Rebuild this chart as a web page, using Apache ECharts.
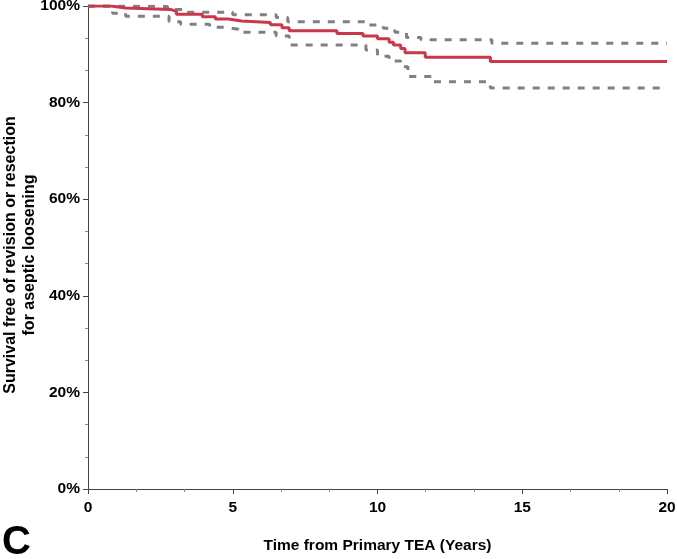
<!DOCTYPE html>
<html>
<head>
<meta charset="utf-8">
<script src="https://cdn.jsdelivr.net/npm/echarts@6/dist/echarts.min.js"></script>
<style>
html,body{margin:0;padding:0;background:#fff;}
#c{width:677px;height:559px;}
</style>
</head>
<body>
<div id="c"></div>
<script>
// Kaplan-Meier estimate: [time (years), survival %] step points
var survival = [
  [0,100],[0.8,99.6],[1.3,99.3],[2.85,98.9],[3.05,98.3],[3.95,97.8],[4.4,97.3],
  [4.85,96.9],[5.3,96.6],[6.3,96.1],[6.7,95.5],[6.95,94.9],[8.6,94.3],[9.5,93.8],
  [10.0,93.2],[10.4,92.5],[10.55,91.9],[10.8,91.2],[10.95,90.3],[11.65,89.4],
  [13.9,88.5],[20,88.5]
];
var upperCI = [
  [0,100],[0.9,99.9],[2.75,99.3],[3.4,98.7],[5.0,98.2],[6.5,97.6],[6.9,96.75],
  [9.6,96.05],[10.2,95.4],[10.6,94.55],[11.0,93.5],[11.5,93.0],[13.95,92.3],[20,92.3]
];
var lowerCI = [
  [0,100],[0.85,98.5],[1.3,97.9],[2.8,96.75],[3.2,96.2],[4.2,95.6],[4.75,95.2],
  [5.2,94.55],[6.5,93.8],[6.95,91.9],[9.6,90.9],[10.0,89.6],[10.4,88.6],[10.8,87.4],
  [11.05,85.4],[11.9,84.3],[13.9,83.0],[20,83.0]
];
var xTicks = [0,5,10,15,20];
var yTicks = [0,20,40,60,80,100];
var yTitleLines = ['Survival free of revision or resection', 'for aseptic loosening'];

var FONT = '"Liberation Sans", Arial, sans-serif';
var chart = echarts.init(document.getElementById('c'), null, {renderer:'canvas'});
chart.setOption({
  animation:false,
  backgroundColor:'#fff',
  grid:{left:88,right:10,top:6,bottom:70,containLabel:false,outerBoundsMode:'none'},
  xAxis:{
    type:'value', min:xTicks[0], max:xTicks[xTicks.length-1], interval:5,
    name:'Time from Primary TEA (Years)', nameLocation:'middle', nameGap:49,
    nameTextStyle:{fontFamily:FONT,fontWeight:'bold',fontSize:15.5,color:'#000'},
    axisLine:{show:true,lineStyle:{color:'#444',width:1}},
    axisTick:{show:true,length:5,lineStyle:{color:'#444'}},
    minorTick:{show:true,splitNumber:3,length:3,lineStyle:{color:'#888'}},
    axisLabel:{fontFamily:FONT,fontWeight:'bold',fontSize:15.5,color:'#000',margin:11},
    splitLine:{show:false}
  },
  yAxis:{
    type:'value', min:yTicks[0], max:yTicks[yTicks.length-1], interval:20,
    axisLine:{show:true,lineStyle:{color:'#444',width:1}},
    axisTick:{show:true,length:5,lineStyle:{color:'#444'}},
    minorTick:{show:true,splitNumber:3,length:3,lineStyle:{color:'#888'}},
    axisLabel:{fontFamily:FONT,fontWeight:'bold',fontSize:15.5,color:'#000',margin:8,formatter:'{value}%'},
    splitLine:{show:false}
  },
  series:[
    {type:'line',step:'end',data:upperCI,symbol:'none',z:2,
     lineStyle:{color:'#808080',width:3,type:[7,8]}},
    {type:'line',step:'end',data:lowerCI,symbol:'none',z:2,
     lineStyle:{color:'#808080',width:3,type:[7,8]}},
    {type:'line',step:'end',data:survival,symbol:'none',z:3,
     lineStyle:{color:'#c8374a',width:3}}
  ],
  graphic:[
    {type:'text',x:11,y:255,rotation:Math.PI/2,
     style:{text:yTitleLines[0],fontFamily:FONT,fontWeight:'bold',fontSize:16,fill:'#000',align:'center',verticalAlign:'middle'}},
    {type:'text',x:30,y:255,rotation:Math.PI/2,
     style:{text:yTitleLines[1],fontFamily:FONT,fontWeight:'bold',fontSize:16,fill:'#000',align:'center',verticalAlign:'middle'}},
    {type:'text',left:2,top:523,style:{text:'C',fontFamily:FONT,fontWeight:'bold',fontSize:40,fill:'#000'}}
  ]
});
</script>
</body>
</html>
